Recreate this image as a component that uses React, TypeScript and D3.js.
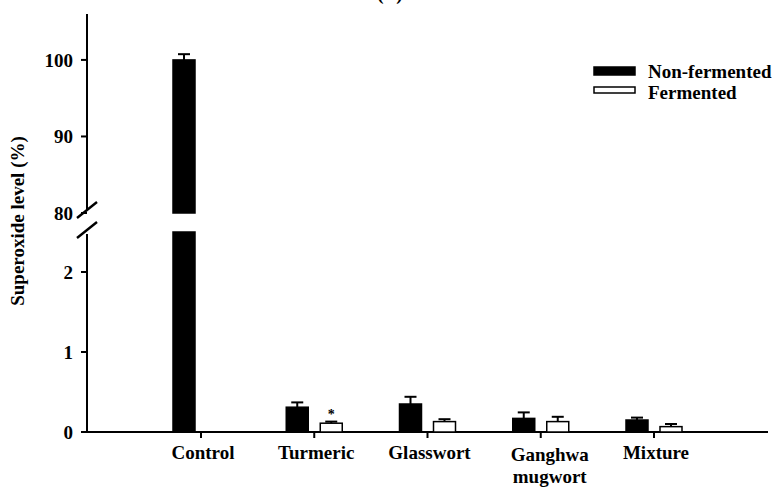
import React from "react";
import * as d3 from "d3";

// Superoxide level (%) by extract, non-fermented vs fermented
const categories = ["Control", "Turmeric", "Glasswort", "Ganghwa mugwort", "Mixture"];
const nonFermented = [100, 0.31, 0.35, 0.17, 0.15];
const nonFermentedErr = [0.75, 0.06, 0.09, 0.075, 0.03];
const fermented: (number | null)[] = [null, 0.11, 0.13, 0.13, 0.067];
const fermentedErr: (number | null)[] = [null, 0.02, 0.03, 0.06, 0.033];
const significant = [false, true, false, false, false];

const upperTicks = [80, 90, 100];
const lowerTicks = [0, 1, 2];
const seriesNames = ["Non-fermented", "Fermented"];

const W = 782;
const H = 490;
const FONT = "Liberation Serif, Times New Roman, serif";

// Broken y axis: lower segment 0–2.5, upper segment 80–106
const lowerDomain: [number, number] = [0, 2.5];
const upperDomain: [number, number] = [80, 106];
const yLow = d3.scaleLinear().domain(lowerDomain).range([432, 232]);
const yUp = d3.scaleLinear().domain(upperDomain).range([213, 14]);

const x = d3.scalePoint<string>().domain(categories).range([201, 654]);

const axisX = 87;
const barW = 22;
const barGap = 6;
const capW = 12;

function yOf(v: number) {
  return v > lowerDomain[1] ? yUp(v) : yLow(v);
}

function Bar({ cx, value, err, filled }: { cx: number; value: number; err: number; filled: boolean }) {
  const x0 = filled ? cx - barGap - barW : cx + barGap;
  const fill = filled ? "#000" : "#fff";
  const parts: JSX.Element[] = [];
  if (value > lowerDomain[1]) {
    parts.push(
      <rect key="lo" x={x0} y={yLow(lowerDomain[1])} width={barW} height={yLow(0) - yLow(lowerDomain[1])}
        fill={fill} stroke="#000" strokeWidth={1.5} />
    );
    parts.push(
      <rect key="up" x={x0} y={yUp(value)} width={barW} height={yUp(upperDomain[0]) - yUp(value)}
        fill={fill} stroke="#000" strokeWidth={1.5} />
    );
  } else {
    parts.push(
      <rect key="lo" x={x0} y={yLow(value)} width={barW} height={yLow(0) - yLow(value)}
        fill={fill} stroke="#000" strokeWidth={1.5} />
    );
  }
  const mx = x0 + barW / 2;
  const yTop = yOf(value + err);
  parts.push(<line key="e" x1={mx} x2={mx} y1={yOf(value)} y2={yTop} stroke="#000" strokeWidth={2} />);
  parts.push(<line key="c" x1={mx - capW / 2} x2={mx + capW / 2} y1={yTop} y2={yTop} stroke="#000" strokeWidth={2} />);
  return <g>{parts}</g>;
}

export default function App() {
  const breakTop = 210;
  const breakBottom = 234;
  return (
    <svg width={W} height={H} viewBox={`0 0 ${W} ${H}`}
      style={{ position: "absolute", left: 0, top: 0, background: "#fff", fontFamily: FONT, fontWeight: "bold" }}>
      <text x={390} y={0} fontSize={19} textAnchor="middle">(B)</text>

      {/* y axis, upper segment */}
      <line x1={axisX} x2={axisX} y1={yUp(upperDomain[1])} y2={breakTop} stroke="#000" strokeWidth={2} />
      {upperTicks.map((t) => (
        <g key={"u" + t}>
          <line x1={axisX - 6} x2={axisX} y1={yUp(t)} y2={yUp(t)} stroke="#000" strokeWidth={2} />
          <text x={73} y={yUp(t)} dy="0.35em" fontSize={19} textAnchor="end">{t}</text>
        </g>
      ))}
      {/* y axis, lower segment */}
      <line x1={axisX} x2={axisX} y1={breakBottom} y2={yLow(0)} stroke="#000" strokeWidth={2} />
      {lowerTicks.map((t) => (
        <g key={"l" + t}>
          <line x1={axisX - 6} x2={axisX} y1={yLow(t)} y2={yLow(t)} stroke="#000" strokeWidth={2} />
          <text x={73} y={yLow(t)} dy="0.35em" fontSize={19} textAnchor="end">{t}</text>
        </g>
      ))}
      {/* break marks */}
      {[breakTop, breakBottom - 4].map((yb, i) => (
        <line key={"b" + i} x1={axisX - 10} x2={axisX + 10} y1={yb + 8} y2={yb - 8} stroke="#000" strokeWidth={2.5} />
      ))}

      {/* x axis */}
      <line x1={81} x2={768} y1={yLow(0)} y2={yLow(0)} stroke="#000" strokeWidth={2} />

      {/* bars */}
      {categories.map((c, i) => {
        const cx = x(c)!;
        const fv = fermented[i];
        const fe = fermentedErr[i];
        return (
          <g key={c}>
            <Bar cx={cx} value={nonFermented[i]} err={nonFermentedErr[i]} filled />
            {fv !== null && <Bar cx={cx} value={fv} err={fe ?? 0} filled={false} />}
            {significant[i] && fv !== null && (
              <text x={cx + barGap + barW / 2} y={yLow(fv + (fe ?? 0)) - 3} fontSize={14} textAnchor="middle">*</text>
            )}
            <line x1={cx} x2={cx} y1={yLow(0)} y2={yLow(0) + 6} stroke="#000" strokeWidth={2} />
            {c.startsWith("Ganghwa")
              ? c.split(" ").map((w, k) => (
                <text key={k} x={cx + 9} y={461 + k * 22} fontSize={19} textAnchor="middle">{w}</text>
              ))
              : <text x={cx + 2} y={459} fontSize={19} textAnchor="middle">{c}</text>}
          </g>
        );
      })}

      {/* y label */}
      <text transform="translate(24,221) rotate(-90)" fontSize={19} textAnchor="middle">Superoxide level (%)</text>

      {/* legend */}
      {seriesNames.map((s, i) => (
        <g key={s}>
          <rect x={594} y={67 + i * 20} width={41} height={i === 0 ? 8 : 6}
            fill={i === 0 ? "#000" : "#fff"} stroke="#000" strokeWidth={1.5} />
          <text x={648} y={78 + i * 21} fontSize={19}>{s}</text>
        </g>
      ))}
    </svg>
  );
}
